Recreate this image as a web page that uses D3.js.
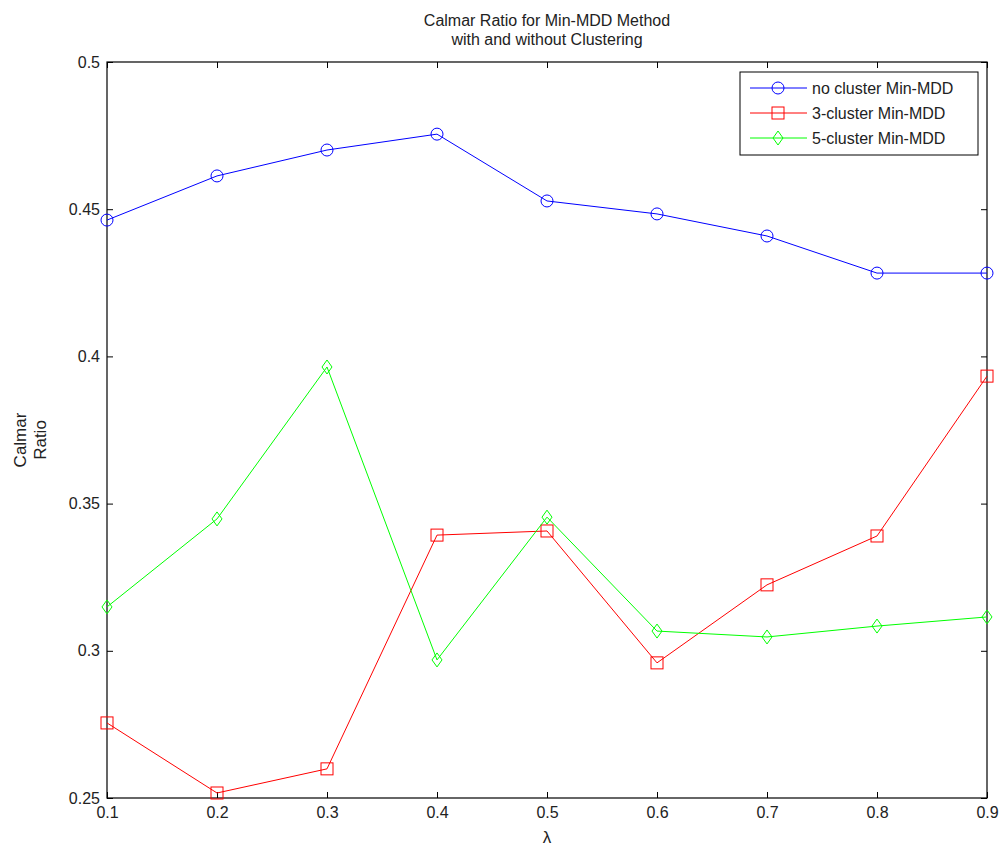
<!DOCTYPE html>
<html>
<head>
<meta charset="utf-8">
<script src="https://cdn.jsdelivr.net/npm/d3@7"></script>
<style>
  body { margin: 0; background: #fff; }
  text { font-family: Arial, "Liberation Sans", sans-serif; }
</style>
</head>
<body>
<svg width="999" height="848"></svg>
<script>
// lambda values on the x axis
var lambdas = [0.1, 0.2, 0.3, 0.4, 0.5, 0.6, 0.7, 0.8, 0.9]
var noCluster = [0.4463, 0.4613, 0.4701, 0.4755, 0.4528, 0.4484, 0.4409, 0.4283, 0.4283]
var cluster3 = [0.2755, 0.2517, 0.2599, 0.3393, 0.3407, 0.2959, 0.3224, 0.3390, 0.3933]
var cluster5 = [0.3149, 0.3448, 0.3964, 0.2969, 0.3454, 0.3067, 0.3047, 0.3084, 0.3115]
var xTicks = [0.1, 0.2, 0.3, 0.4, 0.5, 0.6, 0.7, 0.8, 0.9]
var yTicks = [0.25, 0.3, 0.35, 0.4, 0.45, 0.5]
var seriesNames = ['no cluster Min-MDD', '3-cluster Min-MDD', '5-cluster Min-MDD']

var svg = d3.select('svg'),
  margin = {top: 62, right: 12, bottom: 50, left: 107},
  width = +svg.attr('width') - margin.left - margin.right,
  height = +svg.attr('height') - margin.top - margin.bottom

var x = d3.scaleLinear().domain([0.1, 0.9]).range([0, width])
var y = d3.scaleLinear().domain([0.25, 0.5]).range([height, 0])

var g = svg.append('g')
    .attr('transform', 'translate(' + margin.left + ',' + margin.top + ')')

var fmt = function (d) { return String(d) }

g.append('g')
    .attr('transform', 'translate(0,' + height + ')')
    .call(d3.axisBottom(x).tickValues(xTicks).tickSize(-6).tickPadding(9).tickFormat(fmt))
g.append('g')
    .call(d3.axisTop(x).tickValues(xTicks).tickSize(-6).tickFormat(''))
g.append('g')
    .call(d3.axisLeft(y).tickValues(yTicks).tickSize(-6).tickPadding(7).tickFormat(fmt))
g.append('g')
    .attr('transform', 'translate(' + width + ',0)')
    .call(d3.axisRight(y).tickValues(yTicks).tickSize(-6).tickFormat(''))

g.selectAll('.domain').remove()
g.selectAll('.tick line').attr('stroke', '#000')
g.selectAll('.tick text')
    .attr('fill', '#222')
    .style('font-size', '16px')

g.append('rect')
    .attr('width', width)
    .attr('height', height)
    .attr('fill', 'none')
    .attr('stroke', '#000')
    .attr('stroke-width', 1.2)

var series = [
  {name: seriesNames[0], values: noCluster, color: '#0000ff', marker: 'circle'},
  {name: seriesNames[1], values: cluster3, color: '#ff0000', marker: 'square'},
  {name: seriesNames[2], values: cluster5, color: '#00ff00', marker: 'diamond'}
]

var line = d3.line()
    .x(function (d) { return x(d[0]) })
    .y(function (d) { return y(d[1]) })

function drawMarker (sel, type, color) {
  if (type === 'circle') {
    sel.append('circle').attr('r', 6)
  } else if (type === 'square') {
    sel.append('rect').attr('x', -6).attr('y', -6).attr('width', 12).attr('height', 12)
  } else {
    sel.append('path').attr('d', 'M0,-7L5,0L0,7L-5,0Z')
  }
  sel.selectAll('*')
      .attr('fill', 'none')
      .attr('stroke', color)
      .attr('stroke-width', 1)
}

series.forEach(function (s) {
  var pts = lambdas.map(function (l, i) { return [l, s.values[i]] })
  g.append('path')
      .datum(pts)
      .attr('fill', 'none')
      .attr('stroke', s.color)
      .attr('stroke-width', 1)
      .attr('d', line)
  g.selectAll(null)
      .data(pts)
    .enter().append('g')
      .attr('transform', function (d) { return 'translate(' + x(d[0]) + ',' + y(d[1]) + ')' })
      .each(function () { drawMarker(d3.select(this), s.marker, s.color) })
})

// legend
var legend = svg.append('g').attr('transform', 'translate(740,72)')
legend.append('rect')
    .attr('width', 238)
    .attr('height', 83)
    .attr('fill', '#fff')
    .attr('stroke', '#000')
series.forEach(function (s, i) {
  var row = legend.append('g').attr('transform', 'translate(0,' + (16 + i * 25) + ')')
  row.append('line')
      .attr('x1', 10).attr('x2', 67)
      .attr('stroke', s.color)
  var m = row.append('g').attr('transform', 'translate(38,0)')
  drawMarker(m, s.marker, s.color)
  row.append('text')
      .attr('x', 72)
      .attr('dy', '0.35em')
      .style('font-size', '16px')
      .attr('fill', '#222')
      .text(s.name)
})

// titles and labels
var title = svg.append('text')
    .attr('x', margin.left + width / 2)
    .attr('text-anchor', 'middle')
    .style('font-size', '16px')
    .attr('fill', '#222')
title.append('tspan').attr('x', margin.left + width / 2).attr('y', 26).text('Calmar Ratio for Min-MDD Method')
title.append('tspan').attr('x', margin.left + width / 2).attr('y', 45).text('with and without Clustering')

svg.append('text')
    .attr('x', margin.left + width / 2)
    .attr('y', 843)
    .attr('text-anchor', 'middle')
    .style('font-size', '17px')
    .attr('fill', '#222')
    .text('λ')

var ylab = svg.append('text')
    .attr('transform', 'translate(0,440) rotate(-90)')
    .attr('text-anchor', 'middle')
    .style('font-size', '17px')
    .attr('fill', '#222')
ylab.append('tspan').attr('x', 0).attr('y', 26).text('Calmar')
ylab.append('tspan').attr('x', 0).attr('y', 46).text('Ratio')
</script>
</body>
</html>
